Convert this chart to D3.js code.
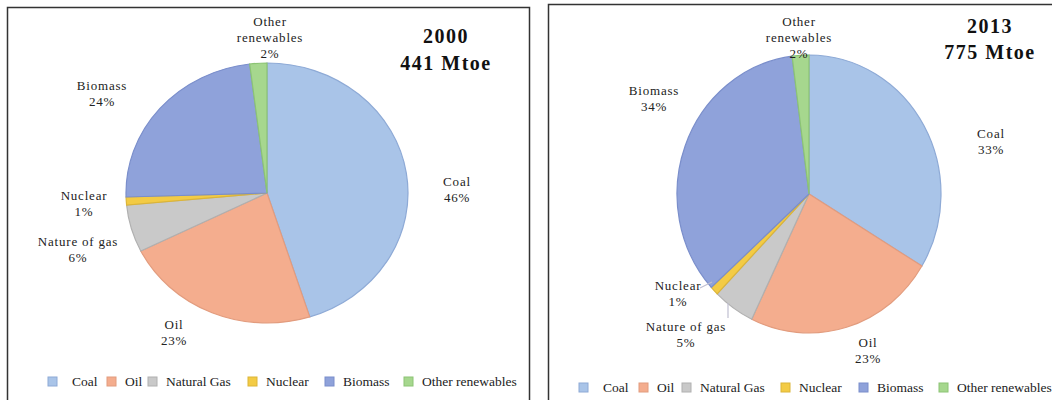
<!DOCTYPE html>
<html>
<head>
<meta charset="utf-8">
<script src="https://cdn.jsdelivr.net/npm/d3@7"></script>
<style>
  body { margin: 0; background: #fff; }
</style>
</head>
<body>
<div id="chart"></div>
<script>
const sources = ["Coal", "Oil", "Natural Gas", "Nuclear", "Biomass", "Other renewables"];
const sliceLabels = ["Coal", "Oil", "Nature of gas", "Nuclear", "Biomass", "Other renewables"];
const share2000 = [46, 23, 6, 1, 24, 2];
const share2013 = [33, 23, 5, 1, 34, 2];
const years = ["2000", "2013"];
const totals = ["441 Mtoe", "775 Mtoe"];

const colors = ["#a9c4e8", "#f4ad8e", "#c9c9c9", "#f3cb45", "#8fa2da", "#a6d78e"];
const strokes = ["#8eaad6", "#e29c7e", "#b0b0b0", "#dcb538", "#7a8ecb", "#8cc474"];

const serif = "'Liberation Serif', 'Times New Roman', serif";

const width = 1052, height = 400;
const svg = d3.select("#chart").append("svg")
  .attr("width", width)
  .attr("height", height)
  .style("font-family", serif);

const color = d3.scaleOrdinal().domain(sources).range(colors);
const strokeColor = d3.scaleOrdinal().domain(sources).range(strokes);

// panel layout
const panels = [
  {
    data: share2000, year: years[0], total: totals[0],
    box: { x: 7, y: 7, w: 522, h: 400 },
    cx: 267, cy: 193, rx: 141, ry: 130,
    title: { x: 446, y1: 43, y2: 70 },
    labels: [[457, 182], [174, 325], [78, 242], [84, 196], [102, 86], [270, 22]],
    leaders: [],
    legendY: 381,
    legendX: [48, 107, 148, 248, 325, 404]
  },
  {
    data: share2013, year: years[1], total: totals[1],
    box: { x: 548, y: 4, w: 520, h: 410 },
    cx: 809, cy: 194, rx: 132, ry: 139,
    title: { x: 990, y1: 33, y2: 59 },
    labels: [[991, 134], [868, 343], [686, 327], [678, 286], [654, 91], [799, 22]],
    leaders: [[3, 700, 288, 712, 282], [2, 728, 318, 728, 303]],
    legendY: 387,
    legendX: [579, 639, 682, 781, 859, 939]
  }
];

const pie = d3.pie().sort(null).value(d => d);

panels.forEach(p => {
  svg.append("rect")
    .attr("x", p.box.x + 0.5)
    .attr("y", p.box.y + 0.5)
    .attr("width", p.box.w)
    .attr("height", p.box.h)
    .attr("fill", "none")
    .attr("stroke", "#333")
    .attr("stroke-width", 1.5);

  const r = p.ry;
  const sx = p.rx / p.ry;
  const arc = d3.arc().innerRadius(0).outerRadius(r);
  const arcs = pie(p.data);

  const g = svg.append("g")
    .attr("transform", `translate(${p.cx},${p.cy}) scale(${sx},1)`);

  g.selectAll("path")
    .data(arcs)
    .enter()
    .append("path")
    .attr("d", arc)
    .attr("fill", (d, i) => color(sources[i]))
    .attr("stroke", (d, i) => strokeColor(sources[i]))
    .attr("stroke-width", 1.2)
    .attr("vector-effect", "non-scaling-stroke");

  // leader lines (small ticks from label to slice edge)
  p.leaders.forEach(([i, x1, y1, x2, y2]) => {
    svg.append("polyline")
      .attr("points", `${x1},${y1} ${x2},${y2}`)
      .attr("fill", "none")
      .attr("stroke", "#c0bfd0")
      .attr("stroke-width", 1.2);
  });

  // slice labels
  p.labels.forEach(([x, y], i) => {
    const t = svg.append("text")
      .attr("x", x)
      .attr("text-anchor", "middle")
      .attr("fill", "#222")
      .style("font-family", serif)
      .style("font-size", "13px")
      .style("letter-spacing", "0.8px");
    let lines = [sliceLabels[i]];
    if (sliceLabels[i] === "Other renewables") lines = ["Other", "renewables"];
    lines.push(p.data[i] + "%");
    lines.forEach((s, k) => {
      t.append("tspan")
        .attr("x", x)
        .attr("y", y + 4 + k * 16)
        .text(s);
    });
  });

  // title
  [[p.year, p.title.y1], [p.total, p.title.y2]].forEach(([s, y]) => {
    svg.append("text")
      .attr("x", p.title.x)
      .attr("y", y)
      .attr("text-anchor", "middle")
      .attr("fill", "#111")
      .style("font-family", serif)
      .style("font-size", "20px")
      .style("font-weight", "bold")
      .style("letter-spacing", "1.5px")
      .text(s);
  });

  // legend
  const legend = svg.selectAll(null)
    .data(sources)
    .enter()
    .append("g")
    .attr("transform", (d, i) => `translate(${p.legendX[i]},${p.legendY})`);

  legend.append("rect")
    .attr("x", 0)
    .attr("y", -4)
    .attr("width", 9)
    .attr("height", 9)
    .attr("fill", d => color(d))
    .attr("stroke", d => strokeColor(d))
    .attr("stroke-width", 1);

  legend.append("text")
    .attr("x", (d, i) => i === 0 ? 24 : 18)
    .attr("y", 5)
    .attr("fill", "#222")
    .style("font-family", serif)
    .style("font-size", "13.5px")
    .text(d => d);
});
</script>
</body>
</html>
